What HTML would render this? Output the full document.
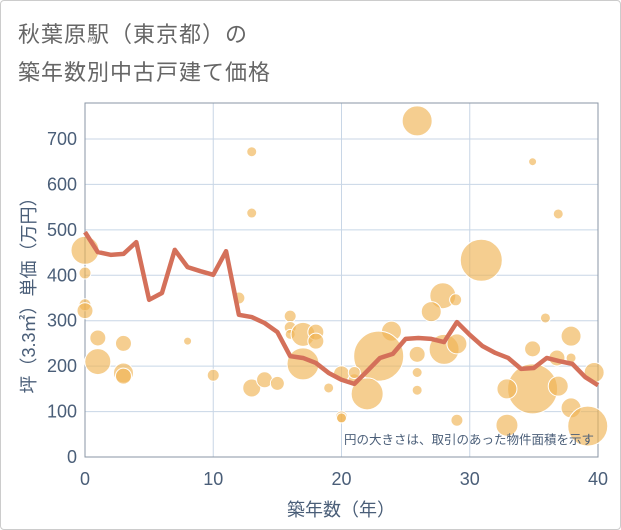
<!DOCTYPE html>
<html><head><meta charset="utf-8"><style>
body{margin:0;background:#fff;font-family:"Liberation Sans","Noto Sans CJK JP",sans-serif;}
#wrap{position:relative;width:619px;height:528px;border:1px solid #ccc;border-radius:4px;overflow:hidden}
.title{position:absolute;left:17px;font-size:22px;color:#666;letter-spacing:1px}
</style></head><body>
<div id="wrap">
<div class="title" style="top:16px">秋葉原駅（東京都）の</div>
<div class="title" style="top:54px">築年数別中古戸建て価格</div>
<svg id="chart" width="621" height="530" style="position:absolute;left:0;top:0"></svg>
</div>
<script>
const lineYears=[0,1,2,3,4,5,6,7,8,9,10,11,12,13,14,15,16,17,18,19,20,21,22,23,24,25,26,27,28,29,30,31,32,33,34,35,36,37,38,39,40];
const lineValues=[495,451,445,447,473,346,361,456,418,409,401,453,313,308,295,275,222,218,207,185,170,161,189,218,227,260,262,260,253,297,269,244,229,218,194,196,218,211,205,176,158];
const bubbleYears=[0,0,0,0,1,1,3,3,3,8,10,12,13,13,13,14,15,16,16,16,17,17,18,18,19,20,20,21,25.9,34.9,36.9,30.9,27.9,28.9,27,23.9,22.9,22,21,20,25.9,25.9,25.9,28,29,29,34.9,34.9,32.9,32.9,35.9,37.9,36.8,37.9,39.2,39.7,36.9,37.9];
const bubbleValues=[455,405,335,322,262,210,250,185,178,255,180,350,672,537,152,170,162,310,285,270,270,205,275,255,152,88,183,170,740,650,535,433,355,346,320,277,222,139,186,86,226,186,147,237,249,81,238,150,150,70,306,266,218,108,68,186,156,218];
const bubbleSizes=[14,6,6,8,8,13,8,10,8,4,6,6,5,5,9,8,7,6,6,5,12,16,8,8,5,6,8,6,15,4,5,21,13,6,10,10,25,16,6,5,8,5,5,15,10,6,8,25,10,11,5,10,8,10,20,10,10,5];
const xTicks=[0,10,20,30,40];
const yTicks=[0,100,200,300,400,500,600,700];
const NS="http://www.w3.org/2000/svg";
const svg=document.getElementById('chart');
const X0=84,X1=597,Y0=456,Y1=102;
const xs=v=>X0+(X1-X0)*v/40;
const ys=v=>Y0-v*0.4543;
function el(t,a){const e=document.createElementNS(NS,t);for(const k in a)e.setAttribute(k,a[k]);svg.appendChild(e);return e;}
for(const t of xTicks){
 const g=el('line',{x1:xs(t),x2:xs(t),y1:Y1,y2:Y0,stroke:'#c8d6e6','stroke-width':1});
 
 
 const l=el('text',{x:xs(t),y:484,'text-anchor':'middle','font-size':18,fill:'#4a5e78'});
 l.textContent=t;
 
 
}
for(const t of yTicks){
 const g=el('line',{x1:X0,x2:X1,y1:ys(t),y2:ys(t),stroke:'#c8d6e6','stroke-width':1});
 
 
 const l=el('text',{x:76,y:ys(t)+6,'text-anchor':'end','font-size':18,fill:'#4a5e78'});
 l.textContent=t;
 
 
}
const fr=el('rect',{x:X0,y:Y1,width:X1-X0,height:Y0-Y1,fill:'none',stroke:'#8a96a4','stroke-width':1});


for(let i=0;i<bubbleYears.length;i++){
 const c=el('circle',{cx:xs(bubbleYears[i]),cy:ys(bubbleValues[i]),r:bubbleSizes[i],fill:'#f0b455','fill-opacity':0.65,stroke:'#fff','stroke-width':1});
 
 
}
const pl=el('polyline',{points:lineYears.map((y,i)=>xs(y)+','+ys(lineValues[i])).join(' '),fill:'none',stroke:'#d4705a','stroke-width':4.5,'stroke-linejoin':'round'});


const note=el('text',{x:593,y:443,'text-anchor':'end','font-size':12.5,fill:'#4a5e78'});
note.textContent='円の大きさは、取引のあった物件面積を示す';


const xt=el('text',{x:340,y:515,'text-anchor':'middle','font-size':18,fill:'#4a5e78'});
xt.textContent='築年数（年）';


const yt=el('text',{x:0,y:0,'text-anchor':'middle','font-size':18,fill:'#4a5e78',transform:'translate(34,290) rotate(-90)'});
yt.textContent='坪（3.3㎡）単価（万円）';


</script>
</body></html>
